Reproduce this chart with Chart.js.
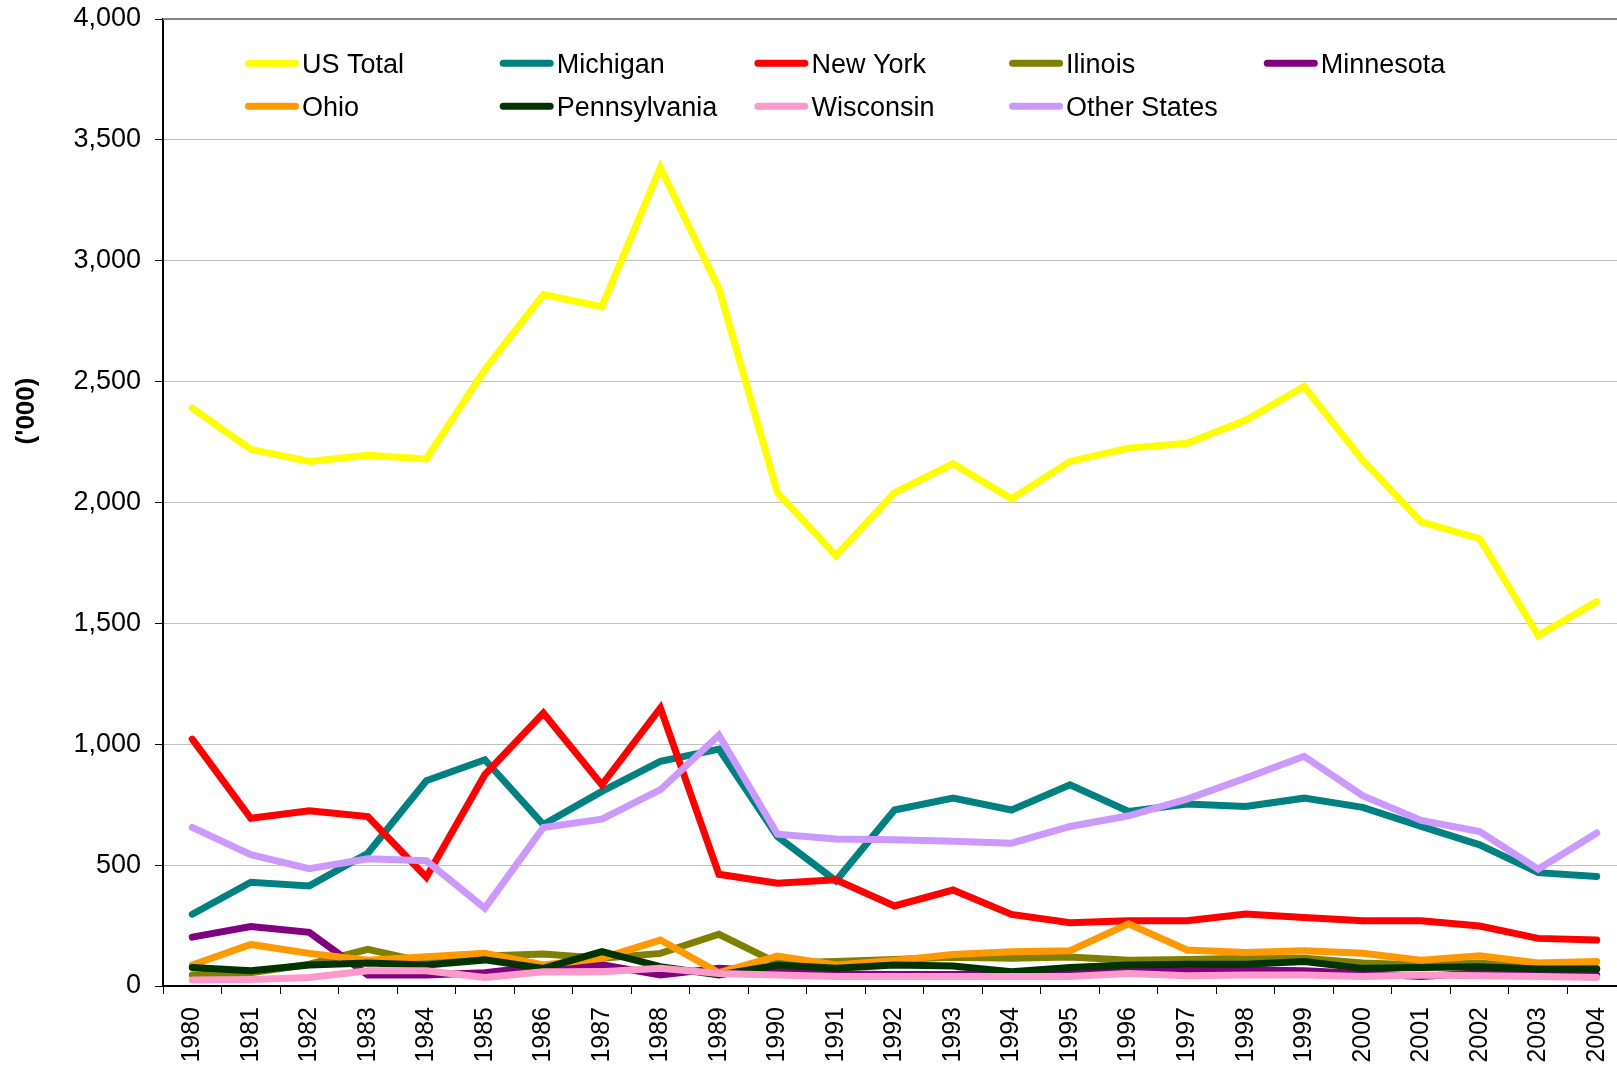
<!DOCTYPE html>
<html>
<head>
<meta charset="utf-8">
<title>US Total and States ('000), 1980-2004</title>
<script src="https://cdn.jsdelivr.net/npm/chart.js@4.4.1/dist/chart.umd.min.js"></script>
<style>
  html, body { margin: 0; padding: 0; background: #fff; overflow: hidden; }
  #wrap { width: 1626px; height: 1069px; }
</style>
</head>
<body>
<div id="wrap"><canvas id="chart" width="1626" height="1069"></canvas></div>
<script>
// values in thousands
const years = ['1980', '1981', '1982', '1983', '1984', '1985', '1986', '1987', '1988', '1989', '1990', '1991', '1992',
               '1993', '1994', '1995', '1996', '1997', '1998', '1999', '2000', '2001', '2002', '2003', '2004'];

const usTotal      = [2390, 2220, 2170, 2195, 2180, 2550, 2860, 2810, 3385, 2885, 2040, 1780, 2040, 2160, 2015, 2170, 2225, 2245, 2340, 2480, 2175, 1920, 1850, 1450, 1590];
const michigan     = [297, 429, 414, 549, 849, 936, 668, 805, 929, 980, 618, 435, 728, 777, 728, 832, 722, 753, 743, 777, 739, 660, 584, 469, 453];
const newYork      = [1021, 694, 725, 701, 450, 874, 1129, 832, 1150, 462, 425, 439, 331, 397, 296, 262, 270, 270, 298, 283, 270, 270, 248, 197, 190];
const illinois     = [46, 55, 90, 152, 98, 124, 132, 115, 135, 214, 95, 101, 110, 119, 115, 120, 107, 110, 115, 115, 95, 87, 95, 73, 73];
const minnesota    = [202, 246, 222, 46, 46, 55, 83, 88, 46, 73, 60, 50, 48, 48, 55, 66, 70, 63, 66, 63, 52, 39, 55, 52, 46];
const ohio         = [87, 172, 135, 107, 121, 135, 87, 115, 190, 55, 124, 87, 106, 130, 142, 146, 257, 149, 139, 146, 135, 107, 125, 95, 101];
const pennsylvania = [77, 63, 87, 95, 87, 108, 73, 142, 80, 46, 87, 73, 87, 83, 59, 77, 87, 90, 90, 101, 73, 77, 80, 70, 70];
const wisconsin    = [25, 27, 35, 63, 63, 35, 59, 59, 73, 52, 46, 39, 39, 39, 39, 39, 52, 42, 46, 46, 39, 46, 42, 39, 35];
const otherStates  = [656, 543, 485, 526, 518, 322, 656, 690, 812, 1037, 628, 608, 605, 599, 591, 660, 704, 773, 860, 950, 787, 685, 639, 483, 633];

const seriesNames  = ['US Total', 'Michigan', 'New York', 'Ilinois', 'Minnesota', 'Ohio', 'Pennsylvania', 'Wisconsin', 'Other States'];
const seriesValues = [usTotal, michigan, newYork, illinois, minnesota, ohio, pennsylvania, wisconsin, otherStates];
const seriesColors = ['#FFFF00', '#008080', '#FF0000', '#808000', '#800080', '#FF9900', '#003300', '#FF99CC', '#CC99FF'];

const yTicks = [0, 500, 1000, 1500, 2000, 2500, 3000, 3500, 4000];
const yTitle = "('000)";

const FONT = "'Liberation Sans', Arial, Helvetica, sans-serif";

document.addEventListener('DOMContentLoaded', function() {
    Chart.defaults.font.family = FONT;
    Chart.defaults.color = '#000';

    // legend in a fixed 5 column grid, like the spreadsheet one
    const gridLegend = {
        id: 'gridLegend',
        afterDraw(chart) {
            const ctx = chart.ctx;
            ctx.save();
            ctx.font = '27px ' + FONT;
            ctx.textBaseline = 'alphabetic';
            ctx.textAlign = 'left';
            chart.data.datasets.forEach(function(ds, i) {
                const col = i % 5;
                const row = Math.floor(i / 5);
                const x = 245 + col * 254.7;
                const y = 63.3 + row * 43;
                ctx.strokeStyle = ds.borderColor;
                ctx.lineWidth = 7;
                ctx.lineCap = 'round';
                ctx.beginPath();
                ctx.moveTo(x + 3.5, y);
                ctx.lineTo(x + 50.5, y);
                ctx.stroke();
                ctx.fillStyle = '#000';
                ctx.fillText(ds.label, x + 57, y + 9.5);
            });

            // y axis title, sits above the middle of the axis
            ctx.font = 'bold 26px ' + FONT;
            ctx.textAlign = 'center';
            ctx.textBaseline = 'middle';
            ctx.translate(27, 411);
            ctx.rotate(-Math.PI / 2);
            ctx.fillText(yTitle, 0, 0);
            ctx.restore();
        },
        beforeDatasetsDraw(chart) { // grey plot area border on top
            const a = chart.chartArea;
            const ctx = chart.ctx;
            ctx.save();
            ctx.strokeStyle = '#808080';
            ctx.lineWidth = 2;
            ctx.beginPath();
            ctx.moveTo(a.left, a.top);
            ctx.lineTo(a.right, a.top);
            ctx.stroke();
            ctx.restore();
        }
    };

    const datasets = seriesNames.map(function(name, i) {
        return {
            label: name,
            data: seriesValues[i],
            borderColor: seriesColors[i],
            backgroundColor: seriesColors[i],
            borderWidth: 7,
            borderCapStyle: 'round',
            borderJoinStyle: 'miter',
            pointRadius: 0,
            tension: 0,
            fill: false,
            order: seriesNames.length - i // later series are drawn on top
        };
    });

    new Chart(document.getElementById('chart'), {
        type: 'line',
        data: { labels: years, datasets: datasets },
        options: {
            responsive: false,
            animation: false,
            devicePixelRatio: 1,
            layout: { padding: { top: 19, left: 0, right: 0, bottom: 0 } },
            plugins: {
                legend: { display: false },
                tooltip: { enabled: false },
                title: { display: false }
            },
            scales: {
                x: {
                    type: 'category',
                    offset: true,
                    grid: { drawOnChartArea: false, offset: true, tickLength: 8, tickColor: '#000' },
                    border: { color: '#000', width: 2 },
                    ticks: { minRotation: 90, maxRotation: 90, autoSkip: false, color: '#000', font: { size: 25 }, padding: 13 },
                    afterFit: function(scale) {
                        scale.height = 83;
                        scale.paddingLeft = 0;
                        scale.paddingRight = 0;
                    }
                },
                y: {
                    min: yTicks[0],
                    max: yTicks[yTicks.length - 1],
                    afterBuildTicks: function(scale) { scale.ticks = yTicks.map(v => ({ value: v })); },
                    grid: { color: '#c0c0c0', lineWidth: 1, tickColor: '#000', tickLength: 8 },
                    border: { color: '#000', width: 2 },
                    ticks: {
                        color: '#000',
                        font: { size: 27 },
                        padding: 14,
                        callback: function(value) { return Number(value).toLocaleString('en-US'); }
                    },
                    afterFit: function(scale) {
                        scale.width = 163;
                        scale.paddingTop = 0;
                        scale.paddingBottom = 0;
                    }
                }
            }
        },
        plugins: [gridLegend]
    });
});
</script>
</body>
</html>
